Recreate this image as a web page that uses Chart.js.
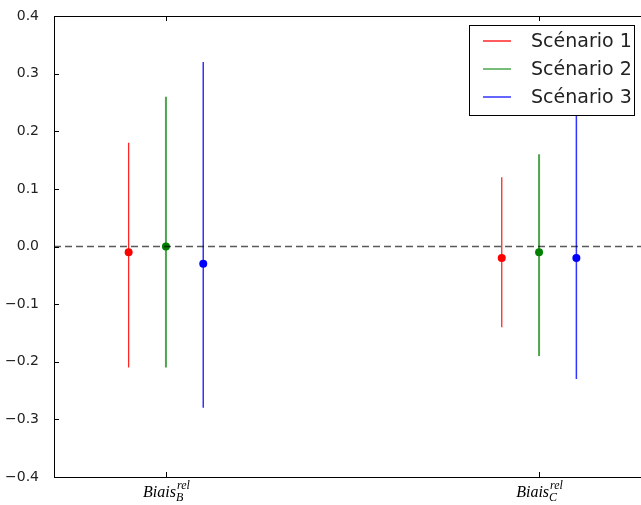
<!DOCTYPE html>
<html>
<head>
<meta charset="utf-8">
<script src="https://cdn.jsdelivr.net/npm/chart.js@4/dist/chart.umd.min.js"></script>
<style>
  html, body { margin: 0; padding: 0; background: #fff; overflow: hidden; }
  #wrap { width: 641px; height: 505px; overflow: hidden; }
</style>
</head>
<body>
<div id="wrap"><canvas id="errChart" width="655" height="505"></canvas></div>
<script>
// categories (x ticks) and their x positions
const categories = ['B', 'C'];
const categoryX = [1, 2];
const scenarioNames = ['Scénario 1', 'Scénario 2', 'Scénario 3'];
const scenarioOffsets = [-0.1, 0, 0.1];

// mean and interval bounds per scenario, one value per category
const meanS1 = [-0.01, -0.02];
const lowS1 = [-0.21, -0.14];
const highS1 = [0.18, 0.12];

const meanS2 = [0.00, -0.01];
const lowS2 = [-0.21, -0.19];
const highS2 = [0.26, 0.16];

const meanS3 = [-0.03, -0.02];
const lowS3 = [-0.28, -0.23];
const highS3 = [0.32, 0.27];

const yTicks = [-0.4, -0.3, -0.2, -0.1, 0.0, 0.1, 0.2, 0.3, 0.4];

const lineColors = ['rgba(255,0,0,0.85)', 'rgba(0,128,0,0.7)', 'rgba(0,0,255,0.8)'];
const pointColors = ['#ff0000', '#008000', '#0000ff'];
const lineWidths = [1.3, 2, 1.5];

const scenarios = [
    { mean: meanS1, low: lowS1, high: highS1 },
    { mean: meanS2, low: lowS2, high: highS2 },
    { mean: meanS3, low: lowS3, high: highS3 }
];

const datasets = [];

// dashed zero line
datasets.push({
    type: 'line',
    data: [{ x: 0.7, y: 0 }, { x: 2.3, y: 0 }],
    borderColor: 'rgba(0,0,0,0.65)',
    borderWidth: 1.6,
    borderDash: [7, 4],
    pointRadius: 0,
    order: 1
});

scenarios.forEach((s, i) => {
    // vertical bars, separated by gaps
    const segs = [];
    categoryX.forEach((cx, j) => {
        const x = cx + scenarioOffsets[i];
        segs.push({ x: x, y: s.low[j] });
        segs.push({ x: x, y: s.high[j] });
        segs.push({ x: x, y: null });
    });
    datasets.push({
        type: 'line',
        label: scenarioNames[i],
        data: segs,
        borderColor: lineColors[i],
        borderWidth: lineWidths[i],
        pointRadius: 0,
        spanGaps: false,
        order: 3
    });
    datasets.push({
        type: 'scatter',
        data: categoryX.map((cx, j) => ({ x: cx + scenarioOffsets[i], y: s.mean[j] })),
        backgroundColor: pointColors[i],
        borderColor: pointColors[i],
        pointRadius: 4,
        borderWidth: 0,
        order: 2
    });
});

const framePlugin = {
    id: 'frame',
    afterDraw(chart) {
        const ctx = chart.ctx;
        const a = chart.chartArea;
        const xs = chart.scales.x;
        const ys = chart.scales.y;
        ctx.save();
        ctx.strokeStyle = '#000';
        ctx.lineWidth = 1;
        ctx.strokeRect(a.left + 0.5, a.top + 0.5, a.right - a.left, a.bottom - a.top);

        // inward ticks
        yTicks.forEach(v => {
            const y = Math.round(ys.getPixelForValue(v)) + 0.5;
            ctx.beginPath();
            ctx.moveTo(a.left, y); ctx.lineTo(a.left + 5, y);
            ctx.moveTo(a.right, y); ctx.lineTo(a.right - 5, y);
            ctx.stroke();
        });
        categoryX.forEach(v => {
            const x = Math.round(xs.getPixelForValue(v)) + 0.5;
            ctx.beginPath();
            ctx.moveTo(x, a.bottom); ctx.lineTo(x, a.bottom - 5);
            ctx.moveTo(x, a.top); ctx.lineTo(x, a.top + 5);
            ctx.stroke();
        });

        // x tick labels: Biais_X^rel
        ctx.fillStyle = '#000';
        ctx.textBaseline = 'alphabetic';
        categories.forEach((c, j) => {
            const cx = xs.getPixelForValue(categoryX[j]);
            ctx.font = 'italic 16px "Liberation Serif"';
            const w1 = ctx.measureText('Biais').width;
            ctx.font = 'italic 12px "Liberation Serif"';
            const w2 = Math.max(ctx.measureText('rel').width, ctx.measureText(c).width);
            const x0 = cx - (w1 + w2) / 2;
            const base = a.bottom + 20;
            ctx.font = 'italic 16px "Liberation Serif"';
            ctx.fillText('Biais', x0, base);
            ctx.font = 'italic 12px "Liberation Serif"';
            ctx.fillText('rel', x0 + w1 + 1, base - 8);
            ctx.fillText(c, x0 + w1, base + 4);
        });

        // legend
        const lx = a.right - 182, ly = a.top + 9, lw = 165, lh = 90;
        ctx.fillStyle = '#fff';
        ctx.fillRect(lx, ly, lw, lh);
        ctx.strokeStyle = '#000';
        ctx.lineWidth = 1;
        ctx.strokeRect(lx + 0.5, ly + 0.5, lw, lh);
        ctx.font = '19px "DejaVu Sans"';
        ctx.textBaseline = 'middle';
        scenarioNames.forEach((n, i) => {
            const y = ly + 16 + i * 28;
            ctx.strokeStyle = lineColors[i];
            ctx.lineWidth = 1.5;
            ctx.beginPath();
            ctx.moveTo(lx + 14, y); ctx.lineTo(lx + 42, y);
            ctx.stroke();
            ctx.fillStyle = '#222';
            ctx.fillText(n, lx + 62, y + 1);
        });
        ctx.restore();
    }
};

new Chart(document.getElementById('errChart'), {
    type: 'line',
    data: { datasets: datasets },
    options: {
        responsive: false,
        animation: false,
        layout: { padding: { top: 16, right: 1, left: 0, bottom: 0 } },
        plugins: { legend: { display: false }, tooltip: { enabled: false } },
        scales: {
            x: {
                type: 'linear',
                min: 0.7,
                max: 2.3,
                grid: { display: false },
                border: { display: false },
                ticks: { display: false },
                afterFit: (scale) => { scale.height = 28; }
            },
            y: {
                type: 'linear',
                min: -0.4,
                max: 0.4,
                grid: { display: false },
                border: { display: false },
                afterBuildTicks: (scale) => { scale.ticks = yTicks.map(v => ({ value: v })); },
                afterFit: (scale) => { scale.width = 54; },
                ticks: {
                    color: '#222',
                    padding: 7,
                    font: { family: 'DejaVu Sans', size: 14 },
                    callback: (v) => v.toFixed(1).replace('-', '\u2212')
                }
            }
        }
    },
    plugins: [framePlugin]
});
</script>
</body>
</html>
